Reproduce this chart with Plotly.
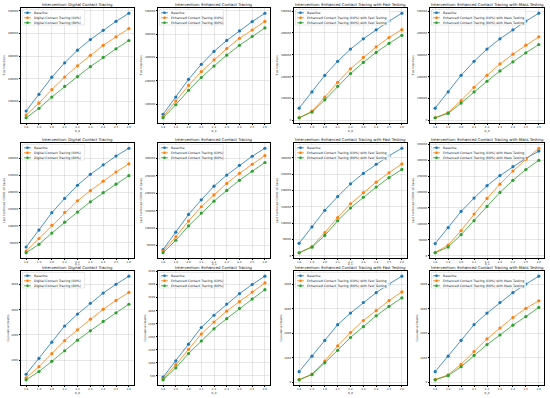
import plotly.graph_objects as go
from plotly.subplots import make_subplots

r0 = [1.8, 1.9, 2.0, 2.1, 2.2, 2.3, 2.4, 2.5, 2.6]
r0_labels = ["1.8", "1.9", "2.0", "2.1", "2.2", "2.3", "2.4", "2.5", "2.6"]

# Baseline
base_inf = [56000, 130000, 206000, 270000, 326000, 373000, 414000, 454000, 490000]
base_cases = [38000, 88000, 139000, 181000, 220000, 252000, 280000, 306000, 329000]
base_deaths = [440, 1070, 1710, 2350, 2820, 3250, 3650, 4000, 4320]

# Digital contact tracing
dct60_inf = [38000, 91000, 151000, 207000, 257000, 303000, 347000, 385000, 422000]
dct80_inf = [26000, 68000, 118000, 165000, 209000, 253000, 294000, 332000, 369000]
dct60_cases = [26000, 63000, 102000, 140000, 174000, 204000, 232000, 259000, 283000]
dct80_cases = [21000, 46000, 79000, 111000, 141000, 171000, 198000, 223000, 248000]
dct60_deaths = [300, 740, 1260, 1770, 2200, 2620, 3010, 3360, 3680]
dct80_deaths = [220, 550, 950, 1370, 1790, 2160, 2530, 2870, 3210]

# Enhanced contact tracing
ect60_inf = [46000, 113000, 180000, 239000, 290000, 338000, 382000, 418000, 455000]
ect80_inf = [41000, 97000, 159000, 214000, 263000, 310000, 352000, 390000, 427000]
ect60_cases = [34000, 75000, 120000, 161000, 195000, 228000, 257000, 283000, 308000]
ect80_cases = [29000, 65000, 106000, 143000, 177000, 208000, 237000, 263000, 288000]
ect60_deaths = [380, 920, 1510, 2100, 2560, 2980, 3340, 3710, 4060]
ect80_deaths = [340, 800, 1350, 1830, 2300, 2690, 3080, 3440, 3800]

# Enhanced contact tracing with fast testing
fast60_inf = [12000, 42000, 106000, 174000, 236000, 288000, 336000, 379000, 415000]
fast80_inf = [12000, 38000, 94000, 156000, 214000, 265000, 311000, 352000, 389000]
fast60_cases = [9000, 28000, 71000, 117000, 159000, 193000, 225000, 254000, 281000]
fast80_cases = [9000, 26000, 62000, 107000, 146000, 179000, 210000, 239000, 264000]
fast60_deaths = [120, 340, 870, 1490, 2030, 2520, 2920, 3330, 3680]
fast80_deaths = [110, 320, 800, 1310, 1830, 2270, 2710, 3090, 3440]

# Enhanced contact tracing with mass testing
mass60_inf = [12000, 36000, 91000, 151000, 206000, 258000, 303000, 344000, 382000]
mass80_inf = [12000, 32000, 79000, 130000, 179000, 226000, 268000, 309000, 347000]
mass60_cases = [10000, 33000, 79000, 131000, 180000, 225000, 266000, 303000, 338000]
mass80_cases = [9000, 27000, 66000, 110000, 155000, 199000, 237000, 271000, 300000]
mass60_deaths = [120, 310, 740, 1260, 1770, 2210, 2640, 3010, 3320]
mass80_deaths = [110, 280, 640, 1100, 1540, 1930, 2330, 2680, 3050]

interventions = [
    "Digital Contact Tracing",
    "Enhanced Contact Tracing",
    "Enhanced Contact Tracing with Fast Testing",
    "Enhanced Contact Tracing with Mass Testing",
]
series_names = [
    ["Baseline", "Digital Contact Tracing (60%)", "Digital Contact Tracing (80%)"],
    ["Baseline", "Enhanced Contact Tracing (60%)", "Enhanced Contact Tracing (80%)"],
    ["Baseline", "Enhanced Contact Tracing (60%) with Fast Testing",
     "Enhanced Contact Tracing (80%) with Fast Testing"],
    ["Baseline", "Enhanced Contact Tracing (60%) with Mass Testing",
     "Enhanced Contact Tracing (80%) with Mass Testing"],
]
metrics = ["True Infections", "Last Confirmed COVID-19 Cases", "Cumulative Deaths"]
x_title = "R_0"

data = [
    [[base_inf, dct60_inf, dct80_inf], [base_inf, ect60_inf, ect80_inf],
     [base_inf, fast60_inf, fast80_inf], [base_inf, mass60_inf, mass80_inf]],
    [[base_cases, dct60_cases, dct80_cases], [base_cases, ect60_cases, ect80_cases],
     [base_cases, fast60_cases, fast80_cases], [base_cases, mass60_cases, mass80_cases]],
    [[base_deaths, dct60_deaths, dct80_deaths], [base_deaths, ect60_deaths, ect80_deaths],
     [base_deaths, fast60_deaths, fast80_deaths], [base_deaths, mass60_deaths, mass80_deaths]],
]
y_dticks = [[100000] * 4, [50000] * 4, [1000, 500, 1000, 1000]]

colors = ["#1f77b4", "#ff7f0e", "#2ca02c"]

W, H = 550, 398
col_px = [(21, 134), (158, 270), (294, 407), (430, 544)]
row_px = [(8, 123), (143, 258), (271, 385)]

FONT = "DejaVu Sans"
fig = make_subplots(rows=3, cols=4)

shapes = []
annotations = []

for r in range(3):
    for c in range(4):
        idx = r * 4 + c + 1
        xs = "" if idx == 1 else str(idx)
        L, R = col_px[c]
        T, B = row_px[r]
        series = data[r][c]
        for k in range(3):
            fig.add_trace(
                go.Scatter(
                    x=r0, y=series[k], mode="lines+markers",
                    name=series_names[c][k],
                    line=dict(color=colors[k], width=0.8),
                    marker=dict(color=colors[k], size=3.2),
                    showlegend=False,
                ),
                row=r + 1, col=c + 1,
            )
        allv = [v for s in series for v in s]
        lo, hi = min(allv), max(allv)
        pad = (hi - lo) * 0.05
        # middle row: axis title as a compact annotation so it stays clear of the next row's titles
        native_xtitle = (r != 1)
        fig.layout["xaxis" + xs].update(
            domain=[L / W, R / W],
            range=[1.76, 2.64],
            automargin=False,
            tickvals=r0, ticktext=r0_labels,
            showline=True, mirror=True, linecolor="black", linewidth=0.5,
            ticks="outside", ticklen=1.2, tickwidth=0.5, tickcolor="black",
            tickfont=dict(size=2.7, family=FONT, color="#222"),
            showgrid=True, gridcolor="rgba(176,176,176,0.3)", gridwidth=0.4,
            zeroline=False,
            title=dict(text=x_title if native_xtitle else "",
                       font=dict(size=2.7, family=FONT, color="#222"), standoff=1.5),
        )
        if not native_xtitle:
            annotations.append(dict(
                text=x_title, x=(L + R) / 2 / W, y=1 - (B + 6.4) / H,
                xref="paper", yref="paper", xanchor="center", yanchor="middle",
                showarrow=False, borderpad=0,
                font=dict(size=2.5, family=FONT, color="#222"),
            ))
        fig.layout["yaxis" + xs].update(
            domain=[1 - B / H, 1 - T / H],
            range=[lo - pad, hi + pad],
            automargin=False,
            dtick=y_dticks[r][c], tick0=0, tickformat="d",
            showline=True, mirror=True, linecolor="black", linewidth=0.5,
            ticks="outside", ticklen=1.5, tickwidth=0.5, tickcolor="black",
            tickfont=dict(size=2.7, family=FONT, color="#222"),
            showgrid=True, gridcolor="rgba(176,176,176,0.3)", gridwidth=0.4,
            zeroline=False,
            title=dict(text=metrics[r], font=dict(size=2.8, family=FONT, color="#222"), standoff=2),
        )
        # subplot title
        annotations.append(dict(
            text="Intervention: " + interventions[c],
            x=(L + R) / 2 / W, y=1 - (T - 0.4) / H, xref="paper", yref="paper",
            xanchor="center", yanchor="bottom", showarrow=False, borderpad=0,
            font=dict(size=3.9, family=FONT, color="#111"),
        ))
        # legend (drawn manually to match compact matplotlib legend)
        lfs = 3.2
        maxlen = max(len(n) for n in series_names[c])
        bw = maxlen * lfs * 0.53 + 13
        bx0, by0 = L + 1.5, T + 1.5
        shapes.append(dict(
            type="rect", xref="paper", yref="paper",
            x0=bx0 / W, x1=(bx0 + bw) / W, y0=1 - by0 / H, y1=1 - (by0 + 15.5) / H,
            line=dict(color="rgba(204,204,204,0.9)", width=0.5),
            fillcolor="rgba(255,255,255,0.8)", layer="above",
        ))
        for k in range(3):
            yc = T + 4.8 + k * 5.0
            shapes.append(dict(
                type="line", xref="paper", yref="paper",
                x0=(L + 3) / W, x1=(L + 10) / W, y0=1 - yc / H, y1=1 - yc / H,
                line=dict(color=colors[k], width=0.8), layer="above",
            ))
            shapes.append(dict(
                type="circle", xref="paper", yref="paper",
                x0=(L + 6.5 - 1.3) / W, x1=(L + 6.5 + 1.3) / W,
                y0=1 - (yc - 1.3) / H, y1=1 - (yc + 1.3) / H,
                line=dict(color=colors[k], width=0.1), fillcolor=colors[k], layer="above",
            ))
            annotations.append(dict(
                text=series_names[c][k], x=(L + 12) / W, y=1 - yc / H,
                xref="paper", yref="paper", xanchor="left", yanchor="middle",
                showarrow=False, borderpad=0, font=dict(size=lfs, family=FONT, color="#222"),
            ))

fig.update_layout(
    width=W, height=H,
    margin=dict(l=0, r=0, t=0, b=0, autoexpand=False),
    paper_bgcolor="white", plot_bgcolor="white",
    font=dict(family=FONT, size=3, color="#222"),
    shapes=shapes, annotations=annotations,
    showlegend=False,
)

fig.write_html(
    "out.html",
    config={"displayModeBar": False},
    post_script="document.body.style.margin='0';document.body.style.overflow='hidden';",
)
